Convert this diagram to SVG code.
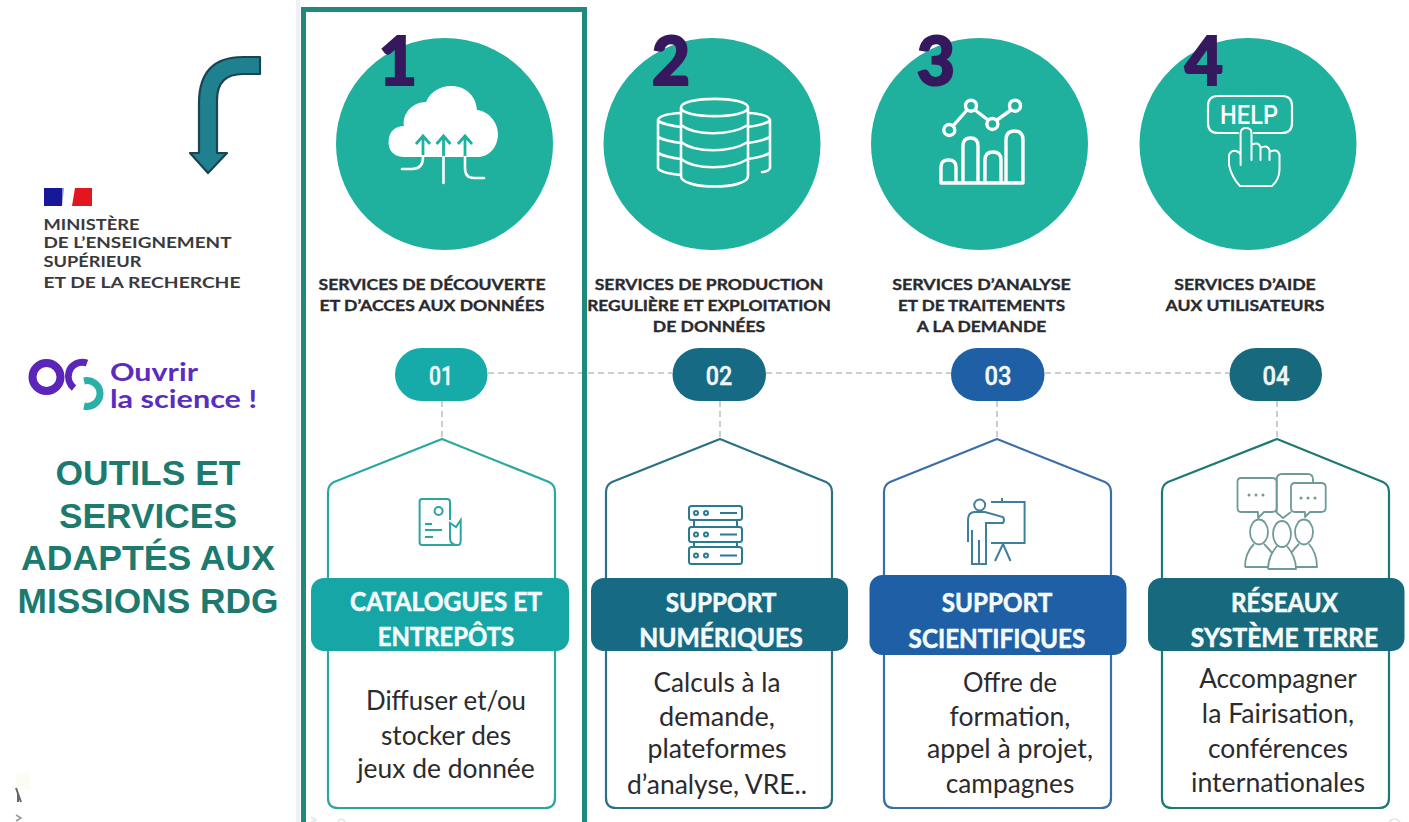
<svg xmlns="http://www.w3.org/2000/svg" width="1409" height="822" viewBox="0 0 1409 822">
<style>
.head{font:700 16px Lato,"Open Sans",sans-serif;fill:#2a2a2e;stroke:#2a2a2e;stroke-width:.35;text-anchor:middle}
.ban{font:700 27px Lato,"Liberation Sans",sans-serif;fill:#f4fafa;stroke:#f4fafa;stroke-width:.6;text-anchor:middle}
.body{font:400 26px Lato,"Liberation Sans",sans-serif;fill:#2b2b2e;text-anchor:middle}
.pill{font:500 25px Roboto,"Liberation Sans",sans-serif;fill:#f2f8f8;stroke:#f2f8f8;stroke-width:.4;text-anchor:middle}
.num{font:900 66px Lato,"Liberation Sans",sans-serif;fill:#35185e;stroke:#35185e;stroke-width:2;text-anchor:middle}
.title{font:700 35px "Liberation Sans",Arial,sans-serif;fill:#1c7a6e;text-anchor:middle}
.min{font:700 16px Lato,"Liberation Sans",sans-serif;fill:#3a3a3c}
.ouv{font:700 25px Lato,"Noto Sans",sans-serif;fill:#5a2cc0}
.circ{fill:#20b09e}
.w{fill:none;stroke:#fff;stroke-width:2.6;stroke-linecap:round;stroke-linejoin:round}
.dash{fill:none;stroke:#c9cfd0;stroke-width:2;stroke-dasharray:6 4}
.house{fill:#fff;stroke-width:2.2;stroke-linejoin:round}
</style>
<rect width="1409" height="822" fill="#fff"/>
<rect x="296" y="0" width="4" height="822" fill="#eef1f8"/>
<g id="sidebar">
<path d="M260 57H243Q199 57 199 103V153H190L208 173L227 153H217V100Q217 74 243 74H260Z" fill="#1f8090" stroke="#1b4450" stroke-width="2.2" stroke-linejoin="round"/>
<path d="M44 188H62V206H44Z" fill="#17179a"/><path d="M62 188H64L62 206Z" fill="#8890c8"/><path d="M75 188H92V206H72Z" fill="#e2161c"/>
<text class="min" x="43.5" y="230" textLength="96" lengthAdjust="spacingAndGlyphs">MINISTÈRE</text>
<text class="min" x="43.5" y="248" textLength="188" lengthAdjust="spacingAndGlyphs">DE L’ENSEIGNEMENT</text>
<text class="min" x="43.5" y="267" textLength="98" lengthAdjust="spacingAndGlyphs">SUPÉRIEUR</text>
<text class="min" x="43.5" y="288" textLength="197" lengthAdjust="spacingAndGlyphs">ET DE LA RECHERCHE</text>
<circle cx="46.5" cy="377" r="14" fill="none" stroke="#5a25b8" stroke-width="8"/>
<path d="M87 363A14 14 0 0 0 69 372A15 15 0 0 0 74 388" fill="none" stroke="#5a25b8" stroke-width="7"/>
<path d="M84 381A13 13 0 0 1 100 393A13 13 0 0 1 84 406" fill="none" stroke="#2bb0a8" stroke-width="7"/>
<text class="ouv" x="110" y="381" textLength="88" lengthAdjust="spacingAndGlyphs">Ouvrir</text>
<text class="ouv" x="110" y="408" textLength="147" lengthAdjust="spacingAndGlyphs">la science !</text>
<text class="title" x="148" y="485" textLength="185" lengthAdjust="spacingAndGlyphs">OUTILS ET</text>
<text class="title" x="148" y="528" textLength="178" lengthAdjust="spacingAndGlyphs">SERVICES</text>
<text class="title" x="148" y="570" textLength="254" lengthAdjust="spacingAndGlyphs">ADAPTÉS AUX</text>
<text class="title" x="148" y="613" textLength="261" lengthAdjust="spacingAndGlyphs">MISSIONS RDG</text>
<path d="M16 773H30V790H16Z" fill="#fbfcf4"/>
<path d="M16 788L21 802M18 794V802" stroke="#666" stroke-width="2" fill="none"/>
<path d="M16 815L21 818L16 821" stroke="#999" stroke-width="1.5" fill="none"/>
<path d="M311 817L316 820L311 822M338 822Q341 816 345 822M1389 822Q1394 816 1400 822" stroke="#dfe4e4" stroke-width="1.5" fill="none"/>
</g>
<g id="connectors">
<path class="dash" d="M488 373H672M766 373H951M1045 373H1229"/>
<path class="dash" d="M442 401V439M720 401V439M997 401V439M1277 401V439"/>
</g>
<g id="frame"><path d="M303.500 828V9.500H584.500V828" fill="none" stroke="#1f8a7c" stroke-width="5"/></g>

<g id="service-1">
<ellipse class="circ" cx="444.500" cy="144" rx="108.500" ry="106"/>
<path d="M404 157C392 157 388 148 388.600 141C389 131 396 126 404 126C402 114 412 102 426 102C430 92 440 86 451 86C466 86 476 96 477 110C488 111 498 122 498 134C498 148 488 157 478 157Z" fill="#fff"/>
<path d="M423 155V137M416 144L423 136L430 144M443.500 157V137M436.500 144L443.500 136L450.500 144M465 157V137M458 144L465 136L472 144" fill="none" stroke="#20b09e" stroke-width="2.8"/>
<path class="w" d="M402 169H412Q423 169 423 157M443.500 157V183M465 157V168Q465 178 474 178H484"/>
<text class="num" x="398" y="85">1</text>
<text class="head" x="432" y="290" textLength="227" lengthAdjust="spacingAndGlyphs">SERVICES DE DÉCOUVERTE</text>
<text class="head" x="432" y="311" textLength="225" lengthAdjust="spacingAndGlyphs">ET D’ACCES AUX DONNÉES</text>
</g>
<g id="service-2">
<ellipse class="circ" cx="712" cy="144" rx="108.500" ry="106"/>
<path class="w" d="M681 107.500C681 96 748 96 748 107.500C748 119 681 119 681 107.500V176C681 190 748 190 748 176V107.500M681 125C695 136 730 136 748 125M681 142C695 153 730 153 748 142M681 159C695 170 730 170 748 159"/>
<path class="w" d="M681 113Q660 114 658 120V168Q660 173 681 175M658 121Q665 125 681 127M658 137Q665 141 681 143M658 153Q665 157 681 159M748 113Q768 114 770 120V168Q768 172 762 172M770 121Q763 125 748 127M770 137Q763 141 748 143M770 153Q763 157 748 159"/>
<text class="num" x="671" y="85">2</text>
<text class="head" x="709" y="290" textLength="228.600" lengthAdjust="spacingAndGlyphs">SERVICES DE PRODUCTION</text>
<text class="head" x="709" y="311" textLength="243.600" lengthAdjust="spacingAndGlyphs">REGULIÈRE ET EXPLOITATION</text>
<text class="head" x="709" y="332" textLength="112.500" lengthAdjust="spacingAndGlyphs">DE DONNÉES</text>
</g>
<g id="service-3">
<ellipse class="circ" cx="979.500" cy="144" rx="108.500" ry="106"/>
<g class="w" style="stroke-width:3.400">
<path d="M953 126L967 110M975 110L988 120M997 120L1011 110"/>
<circle cx="949.300" cy="130" r="5.500"/><circle cx="971" cy="105.700" r="5.500"/><circle cx="992.400" cy="124" r="5.500"/><circle cx="1015" cy="105.700" r="5.500"/>
<path d="M941 183V167Q941 160 948.500 160Q956 160 956 167V183M963 183V146Q963 138 970.500 138Q978 138 978 146V183M985 183V160Q985 152 993 152Q1001 152 1001 160V183M1006 183V140Q1006 131 1014.500 131Q1023 131 1023 140V183M941 183H1023"/>
</g>
<text class="num" x="936" y="85">3</text>
<text class="head" x="981.500" y="290" textLength="178.600" lengthAdjust="spacingAndGlyphs">SERVICES D’ANALYSE</text>
<text class="head" x="981.500" y="311" textLength="167" lengthAdjust="spacingAndGlyphs">ET DE TRAITEMENTS</text>
<text class="head" x="981.500" y="332" textLength="129.500" lengthAdjust="spacingAndGlyphs">A LA DEMANDE</text>
</g>
<g id="service-4">
<ellipse class="circ" cx="1248" cy="144" rx="108.500" ry="106"/>
<path class="w" d="M1238 96H1218Q1208 96 1208 106V123Q1208 133 1218 133H1238M1254 133H1282Q1292 133 1292 123V106Q1292 96 1282 96H1230" style="stroke-width:2.200"/>
<text x="1249" y="124" text-anchor="middle" textLength="58" lengthAdjust="spacingAndGlyphs" style="font:500 25px Roboto,'Liberation Sans',sans-serif;fill:#fff">HELP</text>
<path class="w" d="M1240.600 165V133Q1241 128 1246 128Q1251.500 128 1251.500 133V160M1251.500 145Q1258 141 1260.500 147V160M1260.500 148Q1267 144 1269.500 150V160M1269.500 152Q1278 148 1279.500 155V170Q1279 180 1272 186H1240Q1232 178 1229 165V155Q1231 150 1236 151Q1240 152 1240.600 155" style="stroke-width:2"/>
<text class="num" x="1204" y="85">4</text>
<text class="head" x="1245" y="290" textLength="141.500" lengthAdjust="spacingAndGlyphs">SERVICES D’AIDE</text>
<text class="head" x="1245" y="311" textLength="159" lengthAdjust="spacingAndGlyphs">AUX UTILISATEURS</text>
</g>

<g id="card-1">
<rect x="395" y="348" width="92.500" height="53" rx="26.500" fill="#16aaa8"/>
<text class="pill" x="441" y="385" textLength="24" lengthAdjust="spacingAndGlyphs">01</text>
<path class="house" stroke="#2aa8a0" d="M442 439L334 482Q328 485 328 492V798Q328 808 338 808H545Q555 808 555 798V492Q555 485 549 482Z"/>
<g fill="none" stroke="#2aa5a0" stroke-width="2">
<path d="M450 520V502Q450 499 447 499H422Q419.600 499 419.600 502V542Q419.600 545 422 545H458Q460.700 545 460.700 540V520L456 527L450 523V538Q450 545 458 545"/>
<circle cx="438.600" cy="511" r="4"/>
<path d="M425 524H432M425 530H442M425 537H433"/>
</g>
<rect x="311" y="578" width="258" height="73" rx="13" fill="#16a6a6"/>
<text class="ban" x="446" y="611" textLength="192" lengthAdjust="spacingAndGlyphs">CATALOGUES ET</text>
<text class="ban" x="446" y="646" textLength="136.400" lengthAdjust="spacingAndGlyphs">ENTREPÔTS</text>
<text class="body" x="446" y="710" textLength="160" lengthAdjust="spacingAndGlyphs">Diffuser et/ou</text>
<text class="body" x="446" y="745" textLength="130" lengthAdjust="spacingAndGlyphs">stocker des</text>
<text class="body" x="446" y="778" textLength="177.500" lengthAdjust="spacingAndGlyphs">jeux de donnée</text>
</g>
<g id="card-2">
<rect x="672.500" y="348" width="93.500" height="53" rx="26.500" fill="#176a84"/>
<text class="pill" x="719" y="385" textLength="26.500" lengthAdjust="spacingAndGlyphs">02</text>
<path class="house" stroke="#2c6f86" d="M720 439L612 482Q606 485 606 492V798Q606 808 616 808H822Q832 808 832 798V492Q832 485 826 482Z"/>
<g fill="none" stroke="#2a7a92" stroke-width="2">
<rect x="689" y="506" width="53" height="14" rx="2.500"/><rect x="689" y="527" width="53" height="15" rx="2.500"/><rect x="689" y="547" width="53" height="17" rx="2.500"/>
<path d="M720 513H737M720 534.500H737M720 555.500H737M694 520V527M737 520V527M694 542V547M737 542V547"/>
<circle cx="696" cy="513" r="2"/><circle cx="706" cy="513" r="2"/><circle cx="696" cy="534.500" r="2"/><circle cx="706" cy="534.500" r="2"/><circle cx="696" cy="555.500" r="2"/><circle cx="706" cy="555.500" r="2"/>
</g>
<rect x="591" y="578" width="257" height="73" rx="13" fill="#176a84"/>
<text class="ban" x="721" y="612" textLength="110.700" lengthAdjust="spacingAndGlyphs">SUPPORT</text>
<text class="ban" x="721" y="647" textLength="163.600" lengthAdjust="spacingAndGlyphs">NUMÉRIQUES</text>
<text class="body" x="717" y="692" textLength="126.800" lengthAdjust="spacingAndGlyphs">Calculs à la</text>
<text class="body" x="717" y="726" textLength="116" lengthAdjust="spacingAndGlyphs">demande,</text>
<text class="body" x="717" y="758" textLength="139" lengthAdjust="spacingAndGlyphs">plateformes</text>
<text class="body" x="717" y="794" textLength="180" lengthAdjust="spacingAndGlyphs">d’analyse, VRE..</text>
</g>
<g id="card-3">
<rect x="951" y="348" width="93.500" height="53" rx="26.500" fill="#1f5fa5"/>
<text class="pill" x="998" y="385" textLength="27" lengthAdjust="spacingAndGlyphs">03</text>
<path class="house" stroke="#3a6ea8" d="M997 439L890 482Q884 485 884 492V798Q884 808 894 808H1101Q1111 808 1111 798V492Q1111 485 1105 482Z"/>
<g fill="none" stroke="#3f7f9c" stroke-width="2">
<circle cx="979.700" cy="505" r="5.500"/>
<path d="M991 502H1024.600V543H991M1002 498V502M1003 544L995 561M1003 544L1010.500 561"/>
<path d="M968 542V520Q968 512 975 512H985L1003 517Q1005 520 1003 523H986V564H979V540M979 564H972V530"/>
</g>
<rect x="869.500" y="575" width="257" height="80" rx="13" fill="#1f5fa5"/>
<text class="ban" x="997" y="612" textLength="110.300" lengthAdjust="spacingAndGlyphs">SUPPORT</text>
<text class="ban" x="997" y="648" textLength="176.800" lengthAdjust="spacingAndGlyphs">SCIENTIFIQUES</text>
<text class="body" x="1010" y="692" textLength="94" lengthAdjust="spacingAndGlyphs">Offre de</text>
<text class="body" x="1010" y="726" textLength="120.800" lengthAdjust="spacingAndGlyphs">formation,</text>
<text class="body" x="1010" y="758" textLength="166" lengthAdjust="spacingAndGlyphs">appel à projet,</text>
<text class="body" x="1010" y="793" textLength="128.500" lengthAdjust="spacingAndGlyphs">campagnes</text>
</g>
<g id="card-4">
<rect x="1229.500" y="348" width="92.500" height="53" rx="26.500" fill="#176a7e"/>
<text class="pill" x="1276" y="385" textLength="27" lengthAdjust="spacingAndGlyphs">04</text>
<path class="house" stroke="#1c7a72" d="M1277 439L1168 482Q1162 485 1162 492V798Q1162 808 1172 808H1379Q1389 808 1389 798V492Q1389 485 1383 482Z"/>
<g fill="none" stroke="#6f9a98" stroke-width="1.800" stroke-linejoin="round">
<path d="M1276.700 512V480Q1276.700 474 1282 474H1308Q1313 474 1313 480V483M1276 512L1283 518L1291 512"/>
<path d="M1241 478H1272Q1276.700 478 1276.700 482V508Q1276.700 512 1272 512H1264L1258 518V512H1241Q1237.500 512 1237.500 508V482Q1237.500 478 1241 478Z"/>
<path d="M1295 483H1321Q1325.700 483 1325.700 487V508Q1325.700 512 1321 512H1310L1305 517V512H1295Q1291 512 1291 508V487Q1291 483 1295 483Z"/>
<ellipse cx="1259" cy="532" rx="9" ry="12.500"/><ellipse cx="1282" cy="534" rx="9" ry="13"/><ellipse cx="1304" cy="532" rx="9" ry="12.500"/>
<path d="M1245 567Q1245 553 1254 544M1264 544Q1269 549 1272 553M1245 567H1268M1268 569Q1268 557 1277 546M1287 546Q1296 557 1296 569H1268M1296 567H1317Q1317 553 1309 544M1299 544Q1294 549 1291 553"/>
</g>
<g fill="#6f9a98"><circle cx="1249" cy="495" r="1.500"/><circle cx="1256" cy="495" r="1.500"/><circle cx="1263" cy="495" r="1.500"/><circle cx="1301" cy="498" r="1.500"/><circle cx="1308" cy="498" r="1.500"/><circle cx="1315" cy="498" r="1.500"/></g>
<rect x="1148" y="578" width="256.500" height="73" rx="13" fill="#176a7e"/>
<text class="ban" x="1284.500" y="612" textLength="106.800" lengthAdjust="spacingAndGlyphs">RÉSEAUX</text>
<text class="ban" x="1284.500" y="647" textLength="187.300" lengthAdjust="spacingAndGlyphs">SYSTÈME TERRE</text>
<text class="body" x="1278" y="688" textLength="157.600" lengthAdjust="spacingAndGlyphs">Accompagner</text>
<text class="body" x="1278" y="723" textLength="152.300" lengthAdjust="spacingAndGlyphs">la Fairisation,</text>
<text class="body" x="1278" y="758" textLength="140" lengthAdjust="spacingAndGlyphs">conférences</text>
<text class="body" x="1278" y="792" textLength="174" lengthAdjust="spacingAndGlyphs">internationales</text>
</g>
</svg>
